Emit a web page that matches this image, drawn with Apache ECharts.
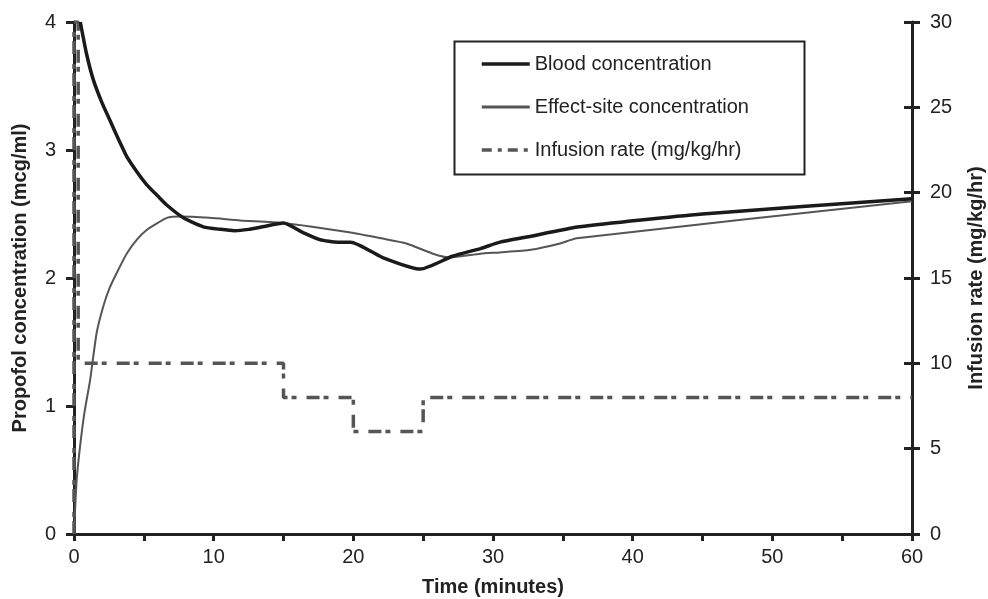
<!DOCTYPE html>
<html lang="en">
<head>
    <meta charset="UTF-8">
    <title>Propofol concentration</title>
    <script type="text/javascript" src="https://cdn.jsdelivr.net/npm/echarts@6/dist/echarts.min.js"></script>
</head>
<body style="margin:0">
<div id="main" style="width: 988px; height: 599px;"></div>
<script type="text/javascript">
    "use strict"
    // [minutes, mcg/ml]
    var bloodConc = [[0.45, 4.0], [0.9, 3.75], [1.38, 3.55], [2.0, 3.37], [2.58, 3.23], [3.2, 3.08],
        [3.77, 2.95], [4.5, 2.83], [5.2, 2.73], [6.0, 2.64], [6.64, 2.57], [7.83, 2.47], [9.26, 2.40],
        [10.5, 2.38], [11.5, 2.37], [12.5, 2.38], [13.5, 2.40], [15, 2.43], [16.3, 2.36], [17.6, 2.30],
        [18.9, 2.28], [19.8, 2.28], [22.1, 2.16], [24.8, 2.07], [27.1, 2.17], [29.1, 2.23], [30.5, 2.28],
        [32.4, 2.32], [36.2, 2.40], [45, 2.50], [60, 2.62]];
    var effectConc = [[0, 0], [0.19, 0.42], [0.43, 0.68], [0.75, 0.95], [1.15, 1.20], [1.62, 1.57],
        [2.1, 1.78], [2.58, 1.93], [3.2, 2.07], [3.77, 2.19], [4.5, 2.30], [5.2, 2.375], [6.0, 2.43],
        [6.64, 2.47], [7.6, 2.48], [9.7, 2.47], [11.9, 2.45], [15, 2.43], [19.8, 2.355], [22, 2.31],
        [23.8, 2.27], [25.7, 2.19], [26.9, 2.16], [29.1, 2.19], [30.5, 2.20], [32.7, 2.22], [34.8, 2.27],
        [36.0, 2.31], [60, 2.60]];
    // [minutes, mg/kg/hr]
    var infusionRate = [[0, 0], [0, 30], [0.3, 30], [0.3, 10], [15, 10], [15, 8], [20, 8], [20, 6],
        [25, 6], [25, 8], [60, 8]];
    var seriesNames = ['Blood concentration', 'Effect-site concentration', 'Infusion rate (mg/kg/hr)'];

    var myChart = echarts.init(document.getElementById('main'));
    var font = 'Liberation Sans, Arial, sans-serif';
    var axisColor = '#222';

    var option = {
        animation: false,
        textStyle: { fontFamily: font },
        grid: { left: 74, right: 76, top: 22, bottom: 65, containLabel: false, outerBoundsMode: 'none' },
        graphic: [{
            type: 'rect',
            left: 452, top: 39,
            shape: { width: 350, height: 133 },
            style: { fill: 'none', stroke: axisColor, lineWidth: 2 }
        }],
        legend: {
            orient: 'vertical',
            left: 480, top: 54,
            padding: 0,
            itemWidth: 48, itemHeight: 14, itemGap: 23,
            itemStyle: { opacity: 0 },
            textStyle: { fontSize: 20, color: axisColor, fontFamily: font },
            data: [
                { name: seriesNames[0], lineStyle: { width: 3.5 } },
                { name: seriesNames[1], lineStyle: { width: 3 } },
                { name: seriesNames[2], lineStyle: { width: 3.5, type: [10, 6, 4, 6] } }
            ]
        },
        xAxis: {
            type: 'value',
            min: 0, max: 60, interval: 5,
            name: 'Time (minutes)',
            nameLocation: 'middle',
            nameGap: 43,
            nameTextStyle: { fontSize: 20, fontWeight: 'bold', color: axisColor },
            axisLine: { lineStyle: { color: axisColor, width: 3 } },
            axisTick: { length: 7, lineStyle: { width: 3, color: axisColor } },
            axisLabel: {
                fontSize: 20, color: axisColor, margin: 13,
                formatter: function (v) { return v % 10 === 0 ? v : ''; }
            },
            splitLine: { show: false }
        },
        yAxis: [{
            type: 'value',
            min: 0, max: 4, interval: 1,
            name: 'Propofol concentration (mcg/ml)',
            nameLocation: 'middle',
            nameRotate: 90,
            nameGap: 44,
            nameTextStyle: { fontSize: 20, fontWeight: 'bold', color: axisColor },
            axisLine: { show: true, lineStyle: { color: axisColor, width: 3 } },
            axisTick: { show: true, length: 8, lineStyle: { width: 3, color: axisColor } },
            axisLabel: { fontSize: 20, color: axisColor, margin: 18 },
            splitLine: { show: false }
        }, {
            type: 'value',
            position: 'right',
            min: 0, max: 30, interval: 5,
            name: 'Infusion rate (mg/kg/hr)',
            nameLocation: 'middle',
            nameRotate: 90,
            nameGap: 54,
            nameTextStyle: { fontSize: 20, fontWeight: 'bold', color: axisColor },
            axisLine: { show: true, lineStyle: { color: axisColor, width: 3 } },
            axisTick: { show: true, length: 8, lineStyle: { width: 3, color: axisColor } },
            axisLabel: { fontSize: 20, color: axisColor, margin: 18 },
            splitLine: { show: false }
        }, {
            // inner half of the crossing ticks on the right axis
            type: 'value',
            position: 'right',
            min: 0, max: 30, interval: 5,
            axisLine: { show: false },
            axisTick: { show: true, inside: true, length: 8, lineStyle: { width: 3, color: axisColor } },
            axisLabel: { show: false },
            splitLine: { show: false }
        }],
        series: [{
            name: seriesNames[0],
            type: 'line',
            yAxisIndex: 0,
            data: bloodConc,
            symbol: 'none',
            smooth: 0.2,
            lineStyle: { color: '#1a1a1a', width: 3.5 },
            itemStyle: { color: '#1a1a1a' },
            z: 4
        }, {
            name: seriesNames[1],
            type: 'line',
            yAxisIndex: 0,
            data: effectConc,
            symbol: 'none',
            smooth: 0.2,
            lineStyle: { color: '#555', width: 2 },
            itemStyle: { color: '#555' },
            z: 3
        }, {
            name: seriesNames[2],
            type: 'line',
            yAxisIndex: 1,
            data: infusionRate,
            symbol: 'none',
            lineStyle: { color: '#555', width: 3.5, type: [13, 4, 5, 10] },
            itemStyle: { color: '#555' },
            z: 2
        }]
    };

    myChart.setOption(option);
</script>
</body>
</html>
